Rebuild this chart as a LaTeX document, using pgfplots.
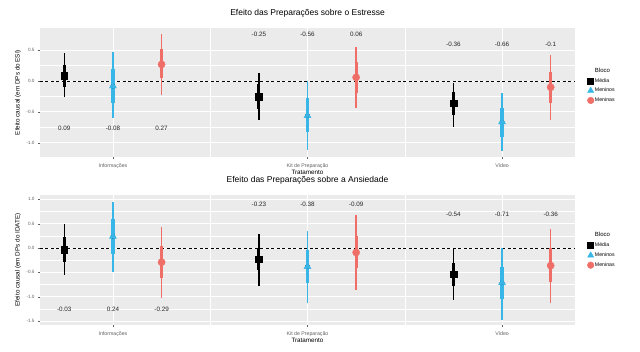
\documentclass[border=0pt]{standalone}
\usepackage{pgfplots}
\pgfplotsset{compat=1.18}
\usepackage{pgfplotstable}
\usepackage{fontspec}
\setmainfont{Liberation Sans}
\definecolor{panel}{RGB}{235,235,235}
\definecolor{cblue}{RGB}{56,182,232}
\definecolor{cred}{RGB}{240,110,104}
\definecolor{tickgray}{RGB}{95,95,95}

% x y lo hi tlo thi  (thin interval lo-hi, thick interval tlo-thi)
\pgfplotstableread{
x y lo hi tlo thi
0.75 0.09 -0.26 0.45 -0.10 0.26
1.75 -0.25 -0.63 0.13 -0.45 -0.05
2.75 -0.36 -0.74 -0.03 -0.55 -0.18
}\topMedia
\pgfplotstableread{
x y lo hi tlo thi
1 -0.08 -0.60 0.47 -0.36 0.20
2 -0.56 -1.11 0.00 -0.83 -0.28
3 -0.66 -1.14 -0.19 -0.90 -0.43
}\topMeninos
\pgfplotstableread{
x y lo hi tlo thi
1.25 0.27 -0.23 0.77 0.05 0.52
2.25 0.06 -0.44 0.56 -0.19 0.31
3.25 -0.10 -0.63 0.42 -0.36 0.15
}\topMeninas
\pgfplotstableread{
x y lo hi tlo thi
0.75 -0.03 -0.55 0.49 -0.28 0.22
1.75 -0.23 -0.78 0.29 -0.45 0.00
2.75 -0.54 -1.07 -0.01 -0.78 -0.30
}\botMedia
\pgfplotstableread{
x y lo hi tlo thi
1 0.24 -0.49 0.95 -0.12 0.60
2 -0.38 -1.13 0.35 -0.72 -0.05
3 -0.71 -1.48 0.00 -1.05 -0.38
}\botMeninos
\pgfplotstableread{
x y lo hi tlo thi
1.25 -0.29 -1.03 0.44 -0.62 0.05
2.25 -0.09 -0.86 0.68 -0.40 0.25
3.25 -0.36 -1.13 0.40 -0.70 0.00
}\botMeninas

\tikzset{lbl/.style={font=\fontsize{6.3}{7}\selectfont, text=black!85}}
\pgfplotsset{
  common/.style={
    scale only axis, width=535pt,
    xmin=0.625, xmax=3.375,
    axis background/.style={fill=panel},
    axis line style={draw=none},
    grid=both,
    major grid style={white, line width=0.9pt},
    minor grid style={white, line width=0.45pt},
    xtick={1,2,3}, minor xtick={1.5,2.5},
    xticklabels={Informações, Kit de Preparação, Vídeo},
    minor y tick num=1,
    xtick pos=bottom, ytick pos=left,
    tick align=outside, major tick length=2pt, minor tick length=0pt,
    tick style={tickgray, line width=0.4pt},
    xticklabel style={font=\fontsize{5.2}{6}\selectfont, text=tickgray, yshift=-1pt},
    yticklabel style={font=\fontsize{4.6}{5}\selectfont, text=tickgray},
    /pgf/number format/assume math mode=true,
    yticklabel={\pgfmathprintnumber[fixed, fixed zerofill, precision=1]{\tick}},
    title style={at={(axis description cs:0.5,1)}, anchor=base, yshift=6.5pt, inner sep=0pt, font=\fontsize{8.5}{10}\selectfont},
    xlabel style={at={(axis description cs:0.5,0)}, anchor=center, yshift=-15pt, font=\fontsize{6.3}{7}\selectfont},
    ylabel style={at={(axis description cs:-0.041,0.5)}, anchor=center, font=\fontsize{6.3}{7}\selectfont},
    legend style={draw=none, fill=none, font=\fontsize{5.2}{6}\selectfont, anchor=north west,
      row sep=2.5pt, inner sep=0pt, nodes={inner sep=1pt}},
    legend cell align=left,
    clip=false,
  },
  thinbar/.style={only marks, mark=none, forget plot,
    error bars/.cd, y dir=both, y explicit, error mark=none,
    error bar style={draw=#1, line width=1.3pt, solid}},
  thickbar/.style={only marks, mark=none, forget plot,
    error bars/.cd, y dir=both, y explicit, error mark=none,
    error bar style={draw=#1, line width=3.2pt, solid}},
}

\newcommand{\pointrange}[4]{% table, color, mark, marksize
  \addplot[thinbar=#2] table[x=x, y=y,
    y error plus expr=\thisrow{hi}-\thisrow{y},
    y error minus expr=\thisrow{y}-\thisrow{lo}] {#1};
  \addplot[thickbar=#2] table[x=x, y=y,
    y error plus expr=\thisrow{thi}-\thisrow{y},
    y error minus expr=\thisrow{y}-\thisrow{tlo}] {#1};
  \addplot[only marks, mark=#3, mark size=#4, color=#2, draw=#2, fill=#2, forget plot] table[x=x, y=y] {#1};
}

\begin{document}
\begin{tikzpicture}
\path[use as bounding box] (0,0) rectangle (640pt,352pt);

% ---------- Top panel ----------
\begin{axis}[common, at={(40pt,195pt)}, anchor=south west, height=129pt,
  ymin=-1.23, ymax=0.86, ytick={-1,-0.5,0,0.5},
  title={Efeito das Preparações sobre o Estresse},
  xlabel={Tratamento}, ylabel={Efeito causal (em DPs do ESI)},
  legend style={at={(axis description cs:1.013,0.70)}}]
\addplot[black, dashed, line width=0.7pt, dash pattern=on 3pt off 2.5pt, forget plot] coordinates {(0.625,0) (3.375,0)};
\pointrange{\topMedia}{black}{square*}{3.3pt}
\pointrange{\topMeninos}{cblue}{triangle*}{4pt}
\pointrange{\topMeninas}{cred}{*}{3.6pt}
\addlegendimage{empty legend}\addlegendentry{\fontsize{6}{7}\selectfont Bloco}
\addlegendimage{only marks, mark=square*, black, mark size=3pt}\addlegendentry{Média}
\addlegendimage{only marks, mark=triangle*, cblue, mark size=3.6pt}\addlegendentry{Meninos}
\addlegendimage{only marks, mark=*, cred, mark size=3.3pt}\addlegendentry{Meninas}
\node[lbl] at (axis cs:0.75,-0.76) {0.09};
\node[lbl] at (axis cs:1,-0.76) {-0.08};
\node[lbl] at (axis cs:1.25,-0.76) {0.27};
\node[lbl] at (axis cs:1.75,0.76) {-0.25};
\node[lbl] at (axis cs:2,0.76) {-0.56};
\node[lbl] at (axis cs:2.25,0.76) {0.06};
\node[lbl] at (axis cs:2.75,0.6) {-0.36};
\node[lbl] at (axis cs:3,0.6) {-0.66};
\node[lbl] at (axis cs:3.25,0.6) {-0.1};
\end{axis}

% ---------- Bottom panel ----------
\begin{axis}[common, at={(40pt,27pt)}, anchor=south west, height=130pt,
  ymin=-1.58, ymax=1.09, ytick={-1.5,-1,-0.5,0,0.5,1},
  title={Efeito das Preparações sobre a Ansiedade},
  xlabel={Tratamento}, ylabel={Efeito causal (em DPs do IDATE)},
  legend style={at={(axis description cs:1.013,0.72)}}]
\addplot[black, dashed, line width=0.7pt, dash pattern=on 3pt off 2.5pt, forget plot] coordinates {(0.625,0) (3.375,0)};
\pointrange{\botMedia}{black}{square*}{3.3pt}
\pointrange{\botMeninos}{cblue}{triangle*}{4pt}
\pointrange{\botMeninas}{cred}{*}{3.6pt}
\addlegendimage{empty legend}\addlegendentry{\fontsize{6}{7}\selectfont Bloco}
\addlegendimage{only marks, mark=square*, black, mark size=3pt}\addlegendentry{Média}
\addlegendimage{only marks, mark=triangle*, cblue, mark size=3.6pt}\addlegendentry{Meninos}
\addlegendimage{only marks, mark=*, cred, mark size=3.3pt}\addlegendentry{Meninas}
\node[lbl] at (axis cs:0.75,-1.26) {-0.03};
\node[lbl] at (axis cs:1,-1.26) {0.24};
\node[lbl] at (axis cs:1.25,-1.26) {-0.29};
\node[lbl] at (axis cs:1.75,0.9) {-0.23};
\node[lbl] at (axis cs:2,0.9) {-0.38};
\node[lbl] at (axis cs:2.25,0.9) {-0.09};
\node[lbl] at (axis cs:2.75,0.69) {-0.54};
\node[lbl] at (axis cs:3,0.69) {-0.71};
\node[lbl] at (axis cs:3.25,0.69) {-0.36};
\end{axis}
\end{tikzpicture}
\end{document}
